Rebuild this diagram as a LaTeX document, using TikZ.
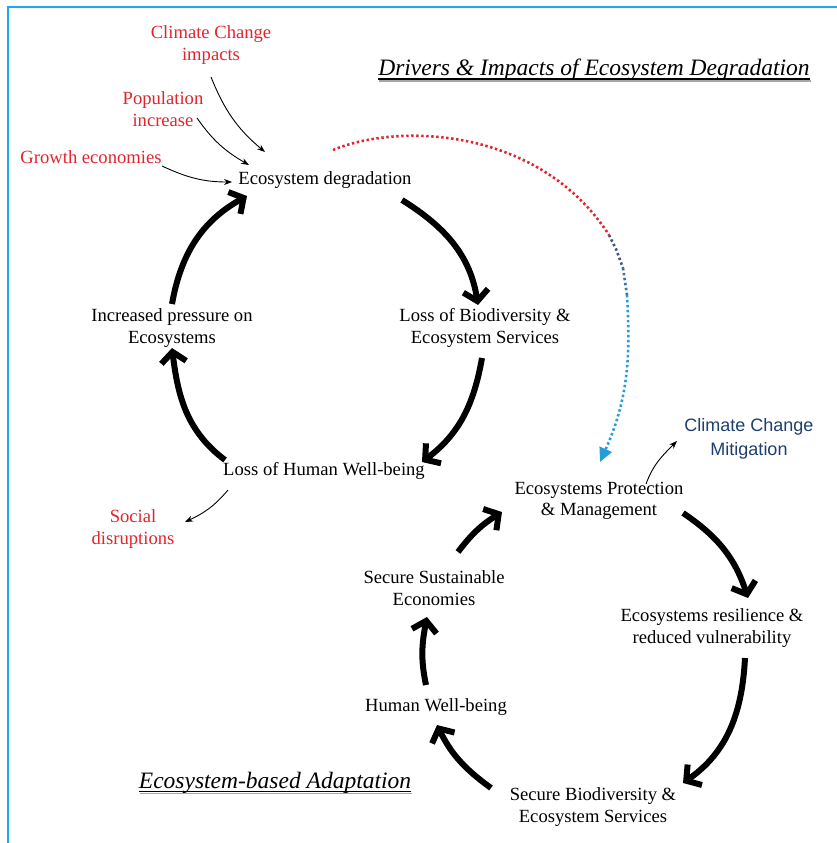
\documentclass[tikz,border=0pt]{standalone}
\usepackage{fontspec}
\setmainfont{Liberation Serif}
\newfontfamily\labelsans{Liberation Sans}
\usetikzlibrary{arrows.meta}
\definecolor{driverred}{RGB}{226,36,46}
\definecolor{mitblue}{RGB}{30,62,110}
\definecolor{framecol}{RGB}{32,170,238}
\definecolor{dotblue}{RGB}{40,155,218}
\definecolor{dotdark}{RGB}{70,80,120}
\definecolor{dotmid}{RGB}{55,115,170}
\begin{document}
\begin{tikzpicture}[x=1pt,y=-1pt,
  lbl/.style={font=\fontsize{18.6}{21.5}\selectfont, align=center, inner sep=0pt},
  drv/.style={lbl, text=driverred},
  ttl/.style={font=\fontsize{23.5}{27}\selectfont\itshape, inner sep=0pt},
  cyc/.style={line width=6pt, -{Straight Barb[length=10.5pt,width=25pt]}},
  thin/.style={line width=0.9pt, -{Stealth[length=8pt,width=6pt]}},
  dotline/.style={line width=2.6pt, dash pattern=on 2.4pt off 2.6pt}]
\useasboundingbox (0,0) rectangle (837,843);
% frame
\draw[framecol, line width=2.6pt] (8,843) -- (8,7) -- (837,7);

% titles
\node[ttl] (t1) at (594,70) {Drivers \& Impacts of Ecosystem Degradation};
\node[ttl] (t2) at (275,783) {Ecosystem-based Adaptation};
\foreach \t in {t1,t2}{
  \draw[black!35, line width=1.8pt] ([xshift=1pt,yshift=-4.9pt]\t.base west) -- ([xshift=1pt,yshift=-4.9pt]\t.base east);
  \draw[line width=1.3pt] ([yshift=-3.2pt]\t.base west) -- ([yshift=-3.2pt]\t.base east);
}

% degradation cycle
\node[drv] (cc) at (211,45) {Climate Change\\impacts};
\node[drv] (pop) at (163,109) {Population\\increase};
\node[drv] (growth) at (91,157) {Growth economies};
\node[lbl] (deg) at (325,180) {Ecosystem degradation};
\node[lbl] (lossbio) at (485,328) {Loss of Biodiversity \&\\Ecosystem Services};
\node[lbl] (incp) at (172,328) {Increased pressure on\\Ecosystems};
\node[lbl] (losshw) at (324,471) {Loss of Human Well-being};
\node[drv] (social) at (133,529) {Social\\disruptions};

% adaptation cycle
\node[font=\labelsans\fontsize{18}{24}\selectfont, text=mitblue, align=center, inner sep=0pt] (ccm) at (749,439) {Climate Change\\Mitigation};
\node[lbl] (prot) at (599,501) {Ecosystems Protection\\\& Management};
\node[lbl] (res) at (712,628) {Ecosystems resilience \&\\reduced vulnerability};
\node[lbl] (sbio) at (593,807) {Secure Biodiversity \&\\Ecosystem Services};
\node[lbl] (hw) at (436,707) {Human Well-being};
\node[lbl] (sse) at (434,588) {Secure Sustainable\\Economies};

% thick cycle arrows, top loop
\draw[cyc] ([shift={(77,20)}]deg.center) to[out=-32,in=99] ([shift={(-7,-23)}]lossbio.center);
\draw[cyc] ([shift={(-3,30)}]lossbio.center) to[out=-100,in=37] ([shift={(98,-9)}]losshw.center);
\draw[cyc] ([shift={(-99,-11)}]losshw.center) to[out=143,in=-83] ([shift={(0,20)}]incp.center);
\draw[cyc] ([shift={(0,-24)}]incp.center) to[out=80,in=-151] ([shift={(-78,16)}]deg.center);

% thick cycle arrows, bottom loop
\draw[cyc] ([shift={(84,12)}]prot.center) to[out=-34,in=108] ([shift={(36,-30)}]res.center);
\draw[cyc] ([shift={(33,30)}]res.center) to[out=-93,in=35] ([shift={(90,-24)}]sbio.center);
\draw[cyc] ([shift={(-102,-19)}]sbio.center) to[out=144,in=-64] ([shift={(1,18)}]hw.center);
\draw[cyc] ([shift={(-10,-22)}]hw.center) to[out=102,in=-101] ([shift={(-7,29)}]sse.center);
\draw[cyc] ([shift={(24,-36)}]sse.center) to[out=53,in=-148] ([shift={(-97,11)}]prot.center);

% thin driver and outcome arrows
\draw[thin] ([shift={(0,32)}]cc.center) to[out=-68,in=140] ([shift={(-60,-28)}]deg.center);
\draw[thin] ([shift={(34,9)}]pop.center) to[out=-55,in=150] ([shift={(-76,-15)}]deg.center);
\draw[thin] ([shift={(71,9)}]growth.center) to[out=-25,in=180] ([shift={(-93,2)}]deg.center);
\draw[thin] ([shift={(-96,19)}]losshw.center) to[out=-130,in=25] ([shift={(52,-7)}]social.center);
\draw[thin] ([shift={(47,-17)}]prot.center) to[out=70,in=-135] ([shift={(-72,2)}]ccm.center);

% dotted link from degradation to protection, red fading into blue
\coordinate (d1) at (609,235);
\coordinate (d2) at (616,249);
\coordinate (d3) at (623,268);
\coordinate (d4) at (627,295);
\draw[dotline, driverred] ([shift={(8,-30)}]deg.center) .. controls (400,122) and (540,128) .. (d1);
\draw[dotline, dotdark] (d1) -- (d2) -- (d3);
\draw[dotline, dotmid] (d3) -- (d4);
\draw[dotline, dotblue, -{Triangle[length=14pt,width=13pt,sep=0pt]}] (d4) .. controls (630,350) and (630,395) .. ([shift={(1,-39)}]prot.center);
\end{tikzpicture}
\end{document}
